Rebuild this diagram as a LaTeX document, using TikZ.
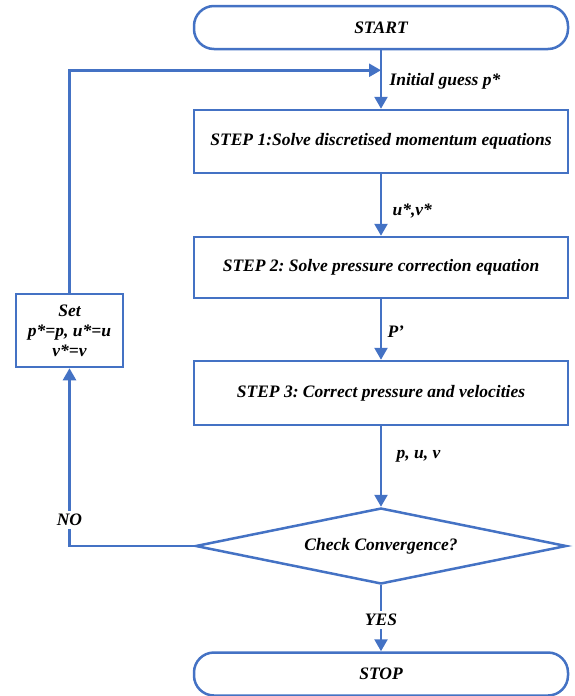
\documentclass[tikz,border=0pt]{standalone}
\usepackage{fontspec}
\setmainfont{Liberation Serif}
\frenchspacing
\definecolor{blueline}{HTML}{4472C4}
\usetikzlibrary{positioning}
\usetikzlibrary{shapes.geometric}
\usetikzlibrary{arrows.meta}

\begin{document}
\begin{tikzpicture}[
    every node/.style={font=\fontsize{17.5}{20}\selectfont\bfseries\itshape},
    box/.style={rectangle, draw=blueline, line width=2.5pt, fill=white, align=center, minimum width=374pt},
    term/.style={box, rounded corners=20pt, minimum height=43pt},
    link/.style={draw=blueline, line width=2.5pt},
    arr/.style={link, -{Triangle[length=12pt, width=13pt]}}]
      \useasboundingbox (0,0) rectangle (574pt,-696pt);
      \node[term] (f1) at (381pt,-27.5pt) {START};
      \node[box, minimum height=63pt, yshift=-114pt] (f2) at (f1.center) {STEP 1:Solve discretised momentum equations};
      \node[box, minimum height=61pt, yshift=-126pt] (f3) at (f2.center) {STEP 2: Solve pressure correction equation};
      \node[box, minimum height=64pt, yshift=-125.5pt] (f4) at (f3.center) {STEP 3: Correct pressure and velocities};
      \node[diamond, draw=blueline, line width=2.5pt, fill=white, aspect=4.9, minimum width=371pt, minimum height=76pt, yshift=-153pt] (f5) at (f4.center) {Check Convergence?};
      \node[term, yshift=-128pt] (f6) at (f5.center) {STOP};
      \node[box, minimum width=107pt, minimum height=73pt, xshift=-311.5pt, yshift=-63pt] (f7) at (f3.center) {Set\\p*=p, u*=u\\v*=v};
      \coordinate[yshift=-20pt] (j1) at (f1.south);
      \coordinate (c1) at (f7 |- f5);
      \node[anchor=west, xshift=5pt, yshift=-11pt] (f8) at (j1) {Initial guess p*};
      \node[anchor=west, xshift=8pt, yshift=-37pt] (f9) at (f2.south) {u*,v*};
      \node[anchor=west, xshift=3pt, yshift=-32pt] (f10) at (f3.south) {P’};
      \node[anchor=west, xshift=12pt, yshift=-30pt] (f11) at (f4.south) {p, u, v};
      \node[inner sep=3pt, yshift=-35pt] (f12) at (f5.south) {YES};
      \node[inner sep=3pt, yshift=26pt] (f13) at (c1) {NO};
      \draw[arr] (f1) -- (f2);
      \draw[arr] (f2) -- (f3);
      \draw[arr] (f3) -- (f4);
      \draw[arr] (f4) -- (f5);
      \draw[link] (f5.south) -- (f12);
      \draw[arr] (f12) -- (f6);
      \draw[link] (f5.west) -| (f13);
      \draw[arr] (f13) -- (f7.south);
      \draw[arr] (f7.north) |- (j1);
    \end{tikzpicture}
\end{document}
